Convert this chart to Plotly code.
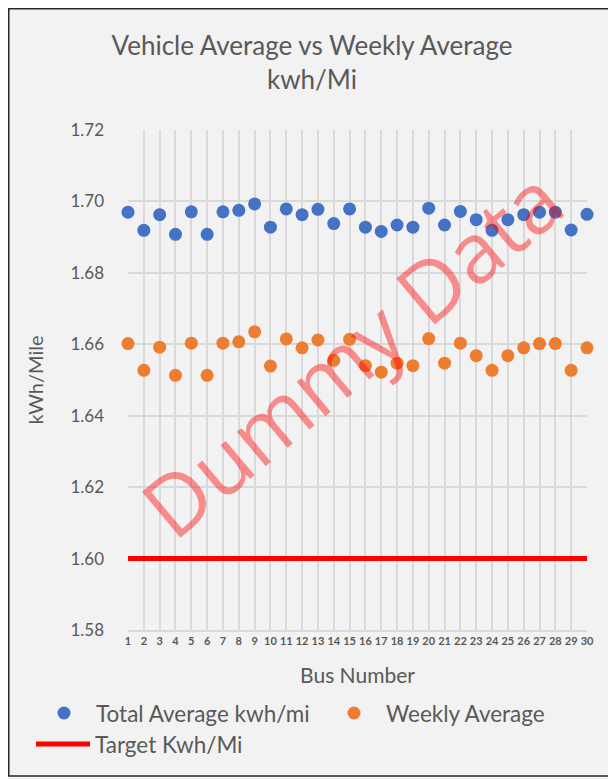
import plotly.graph_objects as go

bus_numbers = list(range(1, 31))

total_average = [
    1.6970, 1.6919, 1.6963, 1.6908, 1.6971, 1.6908, 1.6971, 1.6975, 1.6993, 1.6928,
    1.6979, 1.6963, 1.6978, 1.6938, 1.6979, 1.6928, 1.6916, 1.6934, 1.6928, 1.6981,
    1.6934, 1.6972, 1.6949, 1.6919, 1.6949, 1.6963, 1.6970, 1.6970, 1.6920, 1.6964,
]

weekly_average = [
    1.6602, 1.6527, 1.6592, 1.6513, 1.6603, 1.6513, 1.6603, 1.6607, 1.6635, 1.6539,
    1.6615, 1.6590, 1.6612, 1.6555, 1.6614, 1.6540, 1.6522, 1.6547, 1.6540, 1.6616,
    1.6547, 1.6603, 1.6568, 1.6527, 1.6568, 1.6590, 1.6602, 1.6602, 1.6527, 1.6590,
]

target = [1.60] * len(bus_numbers)

y_ticks = [1.58, 1.60, 1.62, 1.64, 1.66, 1.68, 1.70, 1.72]

FONT = "Lato"
TEXT = "#595959"
GRID = "#d9d9d9"
BG = "#f2f2f2"

# page body has an 8px margin, so the figure is drawn 8px smaller
W, H = 608, 771
L, R, T, B = 120, 29, 122, 149
PW, PH = W - L - R, H - T - B

fig = go.Figure()

fig.add_trace(go.Scatter(
    x=bus_numbers, y=total_average, mode="markers", name="Total Average kwh/mi",
    marker=dict(color="#4472C4", size=13), cliponaxis=False, legend="legend",
))
fig.add_trace(go.Scatter(
    x=bus_numbers, y=weekly_average, mode="markers", name="Weekly Average",
    marker=dict(color="#ED7D31", size=13), cliponaxis=False, legend="legend2",
))
fig.add_trace(go.Scatter(
    x=bus_numbers, y=target, mode="lines", name="Target Kwh/Mi",
    line=dict(color="#FF0000", width=5), cliponaxis=False, legend="legend3",
))


def legend_box(x, y):
    return dict(
        orientation="h",
        xref="container", yref="container",
        x=x, y=y, xanchor="left", yanchor="top",
        itemwidth=54,
        font=dict(size=22.5, color=TEXT, family=FONT),
        bgcolor="rgba(0,0,0,0)",
    )


fig.update_layout(
    width=W,
    height=H,
    paper_bgcolor=BG,
    plot_bgcolor=BG,
    margin=dict(l=L, r=R, t=T, b=B, autoexpand=False),
    font=dict(family=FONT, color=TEXT),
    title=dict(
        text="Vehicle Average vs Weekly Average<br>kwh/Mi",
        x=0.5, xanchor="center", y=0.939, yanchor="top",
        font=dict(size=26, color=TEXT, family=FONT),
    ),
    showlegend=True,
    legend=legend_box(24 / W, 0.113),
    legend2=legend_box(314 / W, 0.113),
    legend3=legend_box(23 / W, 0.0728),
)

fig.update_xaxes(
    range=[1, 30],
    tickmode="array", tickvals=bus_numbers, ticktext=[str(b) for b in bus_numbers],
    tickfont=dict(size=11, color=TEXT, family=FONT, weight="bold"),
    showgrid=True, gridcolor=GRID, gridwidth=1.5,
    showline=True, linecolor=GRID, linewidth=1.5,
    zeroline=False, ticks="",
    title=dict(text="Bus Number", font=dict(size=21, color=TEXT, family=FONT), standoff=22),
)

fig.update_yaxes(
    range=[1.58, 1.72],
    tickmode="array", tickvals=y_ticks, ticktext=[f"{v:.2f}" for v in y_ticks],
    tickfont=dict(size=17, color=TEXT, family=FONT),
    showgrid=True, gridcolor=GRID, gridwidth=1.5,
    zeroline=False, ticks="", ticklabelstandoff=23,
    title=dict(text="kWh/Mile", font=dict(size=20, color=TEXT, family=FONT), standoff=21),
)

# outer chart border
fig.add_shape(
    type="rect", xref="paper", yref="paper",
    x0=(0.75 - L) / PW, x1=(605 - L) / PW,
    y0=(T + PH - 768) / PH, y1=(T + PH - 0.75) / PH,
    line=dict(color="#262626", width=1.5), fillcolor="rgba(0,0,0,0)", layer="below",
)

# watermark
fig.add_annotation(
    text="Dummy Data", xref="paper", yref="paper", x=0.485, y=0.555,
    showarrow=False, textangle=-40,
    font=dict(size=84, color="rgba(255,0,0,0.42)", family="Open Sans"),
)

fig.write_html("out.html")
